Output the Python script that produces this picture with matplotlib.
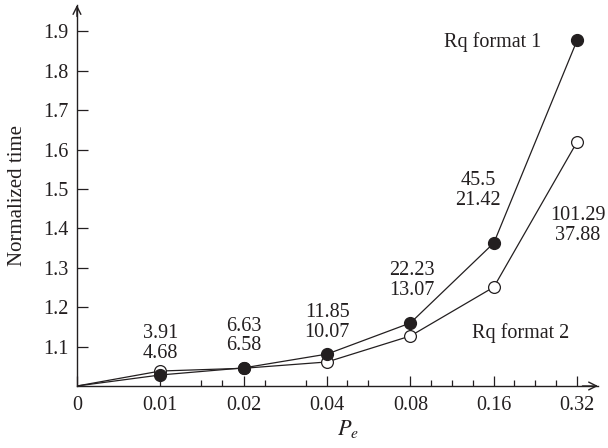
import numpy as np
import matplotlib
matplotlib.use("Agg")
import matplotlib.pyplot as plt

plt.rcParams['font.family'] = ['Liberation Serif', 'DejaVu Serif']
plt.rcParams['mathtext.fontset'] = 'stix'

# data
pe_labels = ['0', '0.01', '0.02', '0.04', '0.08', '0.16', '0.32']
format1 = [1.0, 1.028, 1.046, 1.081, 1.160, 1.363, 1.878]
format2 = [1.0, 1.038, 1.045, 1.061, 1.127, 1.251, 1.620]
ann_top = ['3.91', '6.63', '11.85', '22.23', '45.5', '101.29']
ann_bot = ['4.68', '6.58', '10.07', '13.07', '21.42', '37.88']
yticks = [1.1, 1.2, 1.3, 1.4, 1.5, 1.6, 1.7, 1.8, 1.9]

# where the value pairs sit (x index, y centre)
ann_pos = [(1.0, 1.108), (2.0, 1.127), (3.0, 1.161), (4.02, 1.268),
           (4.81, 1.497), (6.01, 1.407)]

ink = '#231f20'
fs = 14.5

fig = plt.figure(figsize=(6.08, 4.48), dpi=100)
ax = fig.add_axes([0.1266, 0.1384, 0.8570, 0.8504])

x = np.arange(len(pe_labels))
ax.plot(x, format2, color=ink, lw=0.9, marker='o', ms=8.5, markevery=slice(1, None),
        mfc='white', mec=ink, mew=0.9, zorder=3)
ax.plot(x, format1, color=ink, lw=0.9, marker='o', ms=8.5, markevery=slice(1, None),
        mfc=ink, mec=ink, zorder=4)

for (px, py), t, b in zip(ann_pos, ann_top, ann_bot):
    ax.text(px, py, t + '\n' + b, ha='center', va='center',
            fontsize=fs, color=ink, linespacing=1.05)

ax.text(4.99, 1.873, 'Rq format 1', ha='center', va='center', fontsize=fs, color=ink)
ax.text(5.32, 1.135, 'Rq format 2', ha='center', va='center', fontsize=fs, color=ink)

ax.set_xlim(0, 6.25)
ax.set_ylim(1.0, 1.967)

for s in ['top', 'right']:
    ax.spines[s].set_visible(False)
for s in ['left', 'bottom']:
    ax.spines[s].set_color(ink)
    ax.spines[s].set_linewidth(1.0)

ax.set_xticks(x)
ax.set_xticklabels(pe_labels)
minor = [1.49, 1.74, 2.25, 2.75, 3.24, 3.49, 4.25, 4.5, 4.75, 5.24, 5.49, 5.75]
ax.set_xticks(minor, minor=True)
ax.set_yticks(yticks)
ax.set_yticklabels(['%.1f' % v for v in yticks])
ax.tick_params(axis='x', which='major', direction='in', length=7.5, width=0.9,
               color=ink, labelsize=fs, labelcolor=ink, pad=7)
ax.tick_params(axis='x', which='minor', direction='in', length=4, width=0.9, color=ink)
ax.tick_params(axis='y', direction='in', length=8, width=0.9,
               color=ink, labelsize=fs, labelcolor=ink, pad=6)

# arrow heads on the axes
ax.annotate('', xy=(1.0, 0), xytext=(0.97, 0), xycoords='axes fraction',
            arrowprops=dict(arrowstyle='->', color=ink, lw=1.0,
                            mutation_scale=14, shrinkA=0, shrinkB=0))
ax.annotate('', xy=(0, 1.0), xytext=(0, 0.97), xycoords='axes fraction',
            arrowprops=dict(arrowstyle='->', color=ink, lw=1.0,
                            mutation_scale=14, shrinkA=0, shrinkB=0))

ax.set_ylabel('Normalized time', fontsize=fs + 0.5, color=ink)
ax.yaxis.set_label_coords(-0.095, 0.5)
ax.set_xlabel('$P_e$', fontsize=fs + 1.5, color=ink)
ax.xaxis.set_label_coords(0.52, -0.085)

fig.savefig('out.png', dpi=100)
